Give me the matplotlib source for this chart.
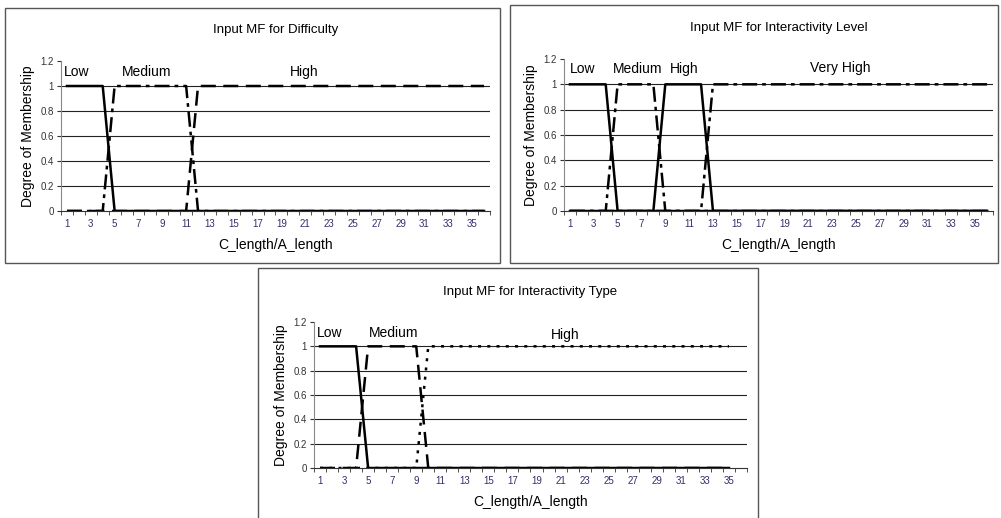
import matplotlib.pyplot as plt
from matplotlib.patches import Rectangle

plt.rcParams['font.family'] = ['Liberation Sans', 'DejaVu Sans']

# x categories (Excel category axis)
cats = list(range(1, 37))
tick_labels = [str(c) for c in range(1, 37, 2)]

# Input MF for Difficulty
diff_low = [1, 1, 1, 1, 0, 0, 0, 0, 0, 0, 0, 0, 0, 0, 0, 0, 0, 0,
            0, 0, 0, 0, 0, 0, 0, 0, 0, 0, 0, 0, 0, 0, 0, 0, 0, 0]
diff_med = [0, 0, 0, 0, 1, 1, 1, 1, 1, 1, 1, 0, 0, 0, 0, 0, 0, 0,
            0, 0, 0, 0, 0, 0, 0, 0, 0, 0, 0, 0, 0, 0, 0, 0, 0, 0]
diff_high = [0, 0, 0, 0, 0, 0, 0, 0, 0, 0, 0, 1, 1, 1, 1, 1, 1, 1,
             1, 1, 1, 1, 1, 1, 1, 1, 1, 1, 1, 1, 1, 1, 1, 1, 1, 1]

# Input MF for Interactivity Level
lvl_low = [1, 1, 1, 1, 0, 0, 0, 0, 0, 0, 0, 0, 0, 0, 0, 0, 0, 0,
           0, 0, 0, 0, 0, 0, 0, 0, 0, 0, 0, 0, 0, 0, 0, 0, 0, 0]
lvl_med = [0, 0, 0, 0, 1, 1, 1, 1, 0, 0, 0, 0, 0, 0, 0, 0, 0, 0,
           0, 0, 0, 0, 0, 0, 0, 0, 0, 0, 0, 0, 0, 0, 0, 0, 0, 0]
lvl_high = [0, 0, 0, 0, 0, 0, 0, 0, 1, 1, 1, 1, 0, 0, 0, 0, 0, 0,
            0, 0, 0, 0, 0, 0, 0, 0, 0, 0, 0, 0, 0, 0, 0, 0, 0, 0]
lvl_vhigh = [0, 0, 0, 0, 0, 0, 0, 0, 0, 0, 0, 0, 1, 1, 1, 1, 1, 1,
             1, 1, 1, 1, 1, 1, 1, 1, 1, 1, 1, 1, 1, 1, 1, 1, 1, 1]

# Input MF for Interactivity Type (last point at 35)
type_low = [1, 1, 1, 1, 0, 0, 0, 0, 0, 0, 0, 0, 0, 0, 0, 0, 0, 0,
            0, 0, 0, 0, 0, 0, 0, 0, 0, 0, 0, 0, 0, 0, 0, 0, 0]
type_med = [0, 0, 0, 0, 1, 1, 1, 1, 1, 0, 0, 0, 0, 0, 0, 0, 0, 0,
            0, 0, 0, 0, 0, 0, 0, 0, 0, 0, 0, 0, 0, 0, 0, 0, 0]
type_high = [0, 0, 0, 0, 0, 0, 0, 0, 0, 1, 1, 1, 1, 1, 1, 1, 1, 1,
             1, 1, 1, 1, 1, 1, 1, 1, 1, 1, 1, 1, 1, 1, 1, 1, 1]

solid = '-'
dashed = (0, (6, 3))
dashdot = (0, (6, 2, 1.5, 2))
dotted = (0, (1.2, 2.5))

W, H = 1001, 518
fig = plt.figure(figsize=(W / 100, H / 100), dpi=100)


def px_axes(x0, x1, y_top, y_bot):
    return fig.add_axes([x0 / W, 1 - y_bot / H, (x1 - x0) / W, (y_bot - y_top) / H])


def panel_box(x0, y0, x1, y1):
    fig.patches.append(Rectangle((x0 / W, 1 - y1 / H), (x1 - x0) / W, (y1 - y0) / H,
                                 transform=fig.transFigure, fill=False,
                                 edgecolor='#555555', linewidth=1))


def style_axes(ax, title, title_y):
    ax.set_xlim(0.5, 36.5)
    ax.set_ylim(0, 1.2)
    ax.set_yticks([0, 0.2, 0.4, 0.6, 0.8, 1.0, 1.2])
    ax.set_yticklabels(['0', '0.2', '0.4', '0.6', '0.8', '1', '1.2'],
                       fontsize=7, color='#333333')
    ax.set_xticks(list(range(1, 37, 2)))
    ax.set_xticklabels(tick_labels, fontsize=7, color='#3a2a6a')
    ax.tick_params(axis='x', which='major', length=0, pad=6)
    ax.set_xticks([c + 0.5 for c in range(0, 37)], minor=True)
    ax.tick_params(axis='x', which='minor', length=3, color='#333333', direction='out')
    ax.tick_params(axis='y', length=3, color='#333333', pad=2)
    for y in [0.2, 0.4, 0.6, 0.8, 1.0]:
        ax.axhline(y, color='#222222', linewidth=0.8, zorder=0)
    for s in ['top', 'right']:
        ax.spines[s].set_visible(False)
    ax.spines['left'].set_color('#888888')
    ax.spines['bottom'].set_color('#333333')
    ax.set_xlabel('C_length/A_length', fontsize=10, labelpad=6)
    ax.set_ylabel('Degree of Membership', fontsize=10, labelpad=4)
    ax.set_title(title, fontsize=9.5, y=title_y)


lw = 1.8
fs = 10

# panel 1
panel_box(5, 8, 500, 263)
ax1 = px_axes(61, 490, 61, 211)
ax1.plot(cats, diff_low, color='black', linestyle=solid, linewidth=lw)
ax1.plot(cats, diff_med, color='black', linestyle=dashdot, linewidth=lw)
ax1.plot(cats, diff_high, color='black', linestyle=dashed, linewidth=lw)
style_axes(ax1, 'Input MF for Difficulty', 1.13)
ax1.text(1.8, 1.11, 'Low', ha='center', va='center', fontsize=fs)
ax1.text(7.7, 1.11, 'Medium', ha='center', va='center', fontsize=fs)
ax1.text(20.9, 1.11, 'High', ha='center', va='center', fontsize=fs)

# panel 2
panel_box(510, 5, 998, 263)
ax2 = px_axes(564, 993, 59, 211)
ax2.plot(cats, lvl_low, color='black', linestyle=solid, linewidth=lw)
ax2.plot(cats, lvl_med, color='black', linestyle=dashdot, linewidth=lw)
ax2.plot(cats, lvl_high, color='black', linestyle=solid, linewidth=lw)
ax2.plot(cats, lvl_vhigh, color='black', linestyle=dashdot, linewidth=lw)
style_axes(ax2, 'Input MF for Interactivity Level', 1.13)
ax2.text(2.1, 1.12, 'Low', ha='center', va='center', fontsize=fs)
ax2.text(6.7, 1.12, 'Medium', ha='center', va='center', fontsize=fs)
ax2.text(10.6, 1.12, 'High', ha='center', va='center', fontsize=fs)
ax2.text(23.7, 1.13, 'Very High', ha='center', va='center', fontsize=fs)

# panel 3
panel_box(258, 268, 758, 530)
ax3 = px_axes(314, 747, 322, 468)
ax3.plot(cats[:35], type_low, color='black', linestyle=solid, linewidth=lw)
ax3.plot(cats[:35], type_med, color='black', linestyle=dashed, linewidth=lw)
ax3.plot(cats[:35], type_high, color='black', linestyle=dotted, linewidth=lw)
style_axes(ax3, 'Input MF for Interactivity Type', 1.13)
ax3.text(1.8, 1.11, 'Low', ha='center', va='center', fontsize=fs)
ax3.text(7.1, 1.11, 'Medium', ha='center', va='center', fontsize=fs)
ax3.text(21.4, 1.09, 'High', ha='center', va='center', fontsize=fs)

fig.savefig('out.png', dpi=100)
